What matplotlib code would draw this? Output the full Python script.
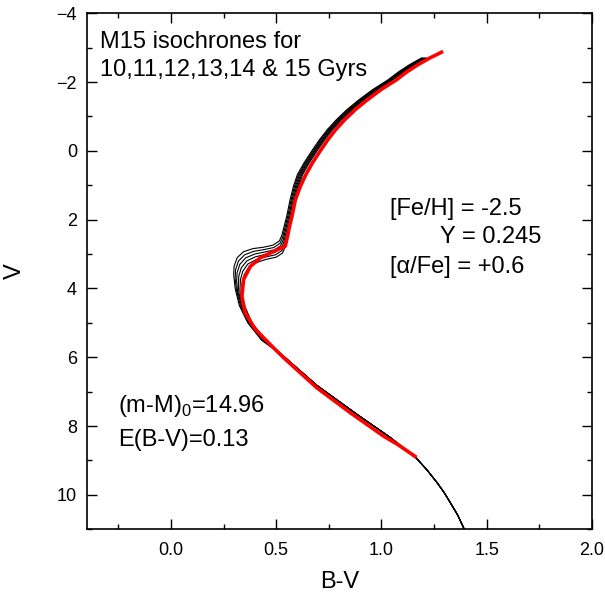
import matplotlib
matplotlib.use('Agg')
import matplotlib.pyplot as plt
from matplotlib.ticker import MultipleLocator, FormatStrFormatter

plt.rcParams['font.family'] = ['Liberation Sans', 'DejaVu Sans']
plt.rcParams['mathtext.fontset'] = 'custom'
plt.rcParams['mathtext.rm'] = 'Liberation Sans'

# lower main sequence, shared by all ages
ms_bv = [1.394, 1.362, 1.327, 1.297, 1.264, 1.220, 1.169, 1.042, 0.884, 0.694, 0.535]
ms_v = [11.0, 10.58, 10.22, 9.92, 9.64, 9.30, 8.95, 8.33, 7.66, 6.82, 5.97]

# turnoff + subgiant branch of each isochrone
iso_ages = [10, 11, 12, 13, 14, 15]
sgb_bv = [
    [0.430, 0.365, 0.325, 0.305, 0.298, 0.300, 0.315, 0.345, 0.390, 0.440, 0.485, 0.515, 0.527],
    [0.434, 0.369, 0.330, 0.311, 0.305, 0.307, 0.321, 0.350, 0.393, 0.442, 0.488, 0.518, 0.530],
    [0.438, 0.373, 0.335, 0.317, 0.312, 0.314, 0.327, 0.355, 0.397, 0.445, 0.491, 0.521, 0.533],
    [0.442, 0.377, 0.340, 0.323, 0.320, 0.322, 0.334, 0.360, 0.401, 0.448, 0.494, 0.524, 0.536],
    [0.446, 0.381, 0.345, 0.329, 0.328, 0.330, 0.341, 0.365, 0.405, 0.451, 0.497, 0.527, 0.539],
    [0.450, 0.385, 0.350, 0.336, 0.336, 0.338, 0.348, 0.370, 0.409, 0.454, 0.500, 0.530, 0.542],
]
sgb_v = [
    [5.5, 5.0, 4.5, 4.00, 3.60, 3.35, 3.10, 2.93, 2.84, 2.80, 2.74, 2.62, 2.45],
    [5.5, 5.0, 4.5, 4.05, 3.70, 3.45, 3.20, 3.02, 2.92, 2.87, 2.81, 2.69, 2.52],
    [5.5, 5.0, 4.5, 4.10, 3.80, 3.55, 3.30, 3.11, 3.00, 2.94, 2.88, 2.76, 2.59],
    [5.5, 5.0, 4.5, 4.15, 3.90, 3.65, 3.40, 3.20, 3.08, 3.01, 2.95, 2.83, 2.66],
    [5.5, 5.0, 4.5, 4.20, 4.00, 3.75, 3.50, 3.29, 3.16, 3.08, 3.02, 2.90, 2.73],
    [5.5, 5.0, 4.5, 4.25, 4.10, 3.85, 3.60, 3.38, 3.24, 3.15, 3.09, 2.97, 2.80],
]

# red giant branch of each isochrone
rgb_v = [1.90, 1.42, 1.03, 0.70, 0.35, 0.02, -0.32, -0.62, -0.90, -1.20, -1.48, -1.78, -2.06, -2.30, -2.50, -2.70]
rgb_bv = [
    [0.550, 0.566, 0.582, 0.600, 0.632, 0.667, 0.705, 0.743, 0.785, 0.836, 0.892, 0.958, 1.030, 1.082, 1.132, 1.190],
    [0.555, 0.571, 0.587, 0.605, 0.637, 0.672, 0.710, 0.748, 0.790, 0.841, 0.897, 0.963, 1.035, 1.087, 1.137, 1.195],
    [0.560, 0.576, 0.592, 0.610, 0.642, 0.677, 0.715, 0.753, 0.795, 0.846, 0.902, 0.968, 1.040, 1.092, 1.142, 1.200],
    [0.565, 0.581, 0.597, 0.615, 0.647, 0.682, 0.720, 0.758, 0.800, 0.851, 0.907, 0.973, 1.045, 1.097, 1.147, 1.205],
    [0.570, 0.586, 0.602, 0.620, 0.652, 0.687, 0.725, 0.763, 0.805, 0.856, 0.912, 0.978, 1.050, 1.102, 1.152, 1.210],
    [0.575, 0.591, 0.607, 0.625, 0.657, 0.692, 0.730, 0.768, 0.810, 0.861, 0.917, 0.983, 1.055, 1.107, 1.157, 1.215],
]

# red fiducial line
fid_bv = [1.167, 1.079, 1.010, 0.852, 0.694, 0.535, 0.480, 0.401, 0.353, 0.337, 0.345, 0.377,
          0.424, 0.488, 0.543, 0.554, 0.563, 0.575, 0.591, 0.615, 0.640, 0.672, 0.707, 0.745,
          0.783, 0.825, 0.876, 0.932, 0.998, 1.070, 1.122, 1.172, 1.230, 1.293]
fid_v = [8.91, 8.54, 8.29, 7.61, 6.89, 6.01, 5.68, 5.19, 4.71, 4.23, 3.74, 3.36,
         3.11, 2.92, 2.77, 2.48, 2.20, 1.90, 1.42, 1.03, 0.70, 0.35, 0.02, -0.32,
         -0.62, -0.90, -1.20, -1.48, -1.78, -2.06, -2.30, -2.50, -2.70, -2.89]

fig = plt.figure(figsize=(6.05, 6.01), dpi=100)
ax = fig.add_axes([0.1435, 0.1193, 0.8347, 0.8586])

for k in range(len(iso_ages)):
    ax.plot(ms_bv + sgb_bv[k] + rgb_bv[k], ms_v + sgb_v[k] + rgb_v, color='black', lw=0.8)

ax.plot(fid_bv, fid_v, color='red', lw=2.6, solid_capstyle='butt')

ax.set_xlim(-0.4, 2.0)
ax.set_ylim(11, -4)
ax.xaxis.set_major_locator(MultipleLocator(0.5))
ax.xaxis.set_minor_locator(MultipleLocator(0.25))
ax.yaxis.set_major_locator(MultipleLocator(2))
ax.yaxis.set_minor_locator(MultipleLocator(1))
ax.xaxis.set_major_formatter(FormatStrFormatter('%.1f'))

ax.tick_params(which='both', direction='in', top=True, right=True, width=1.0, labelsize=13)
ax.tick_params(which='major', length=7)
ax.tick_params(which='minor', length=3.6)
ax.tick_params(axis='x', pad=9)
ax.tick_params(axis='y', pad=7)
for s in ax.spines.values():
    s.set_linewidth(1.2)

ax.set_xlabel('B-V', fontsize=17, labelpad=9)
ax.set_ylabel('V', fontsize=17, labelpad=22)

ax.text(0.026, 0.966, 'M15 isochrones for\n10,11,12,13,14 & 15 Gyrs', transform=ax.transAxes,
        fontsize=17, va='top', ha='left', linespacing=1.38)
ax.text(0.600, 0.609, '[Fe/H] = -2.5', transform=ax.transAxes, fontsize=17, va='baseline')
ax.text(0.700, 0.555, 'Y = 0.245', transform=ax.transAxes, fontsize=17, va='baseline')
ax.text(0.600, 0.497, '[α/Fe] = +0.6', transform=ax.transAxes, fontsize=17, va='baseline')
ax.text(0.062, 0.228, r'(m-M)$_{\mathregular{0}}$=14.96', transform=ax.transAxes, fontsize=17, va='baseline')
ax.text(0.062, 0.161, 'E(B-V)=0.13', transform=ax.transAxes, fontsize=17, va='baseline')

fig.savefig('out.png', dpi=100)
